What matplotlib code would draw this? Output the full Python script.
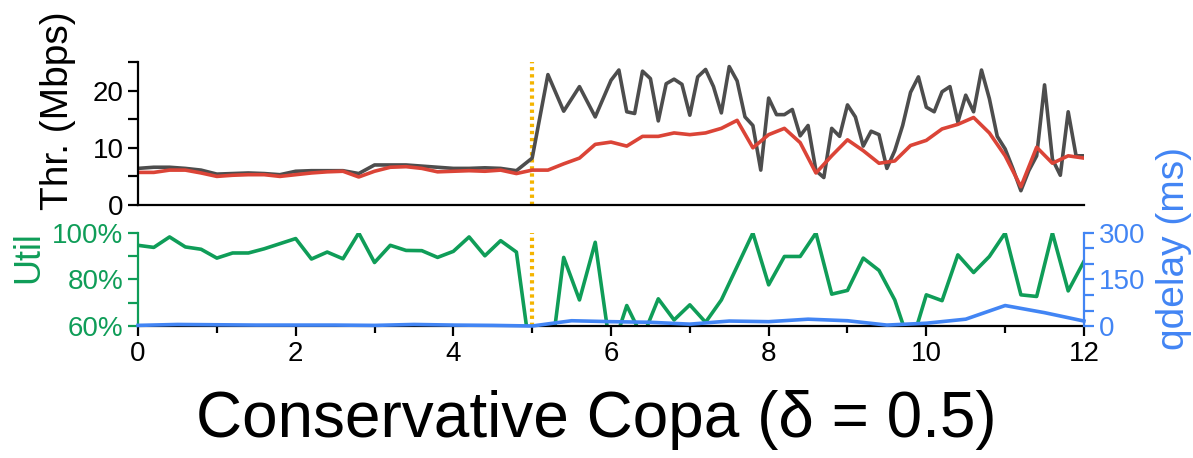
import numpy as np
import matplotlib
matplotlib.use('Agg')
import matplotlib.pyplot as plt
from matplotlib.ticker import FuncFormatter, MultipleLocator

plt.rcParams["font.family"] = ['Liberation Sans', 'DejaVu Sans']
plt.rcParams["font.size"] = 20

# throughput (Mbps)
t_tput = [0.0, 0.2, 0.4, 0.6, 0.8, 1.0, 1.2, 1.4, 1.6, 1.8, 2.0, 2.2, 2.4, 2.6, 2.8,
          3.0, 3.2, 3.4, 3.6, 3.8, 4.0, 4.2, 4.4, 4.6, 4.8, 5.0, 5.2, 5.4, 5.6, 5.8,
          6.0, 6.1, 6.2, 6.3, 6.4, 6.5, 6.6, 6.7, 6.8, 6.9, 7.0, 7.1, 7.2, 7.3, 7.4,
          7.5, 7.6, 7.7, 7.8, 7.9, 8.0, 8.1, 8.2, 8.3, 8.4, 8.5, 8.6, 8.7, 8.8, 8.9,
          9.0, 9.1, 9.2, 9.3, 9.4, 9.5, 9.6, 9.7, 9.8, 9.9, 10.0, 10.1, 10.2, 10.3,
          10.4, 10.5, 10.6, 10.7, 10.8, 10.9, 11.0, 11.1, 11.2, 11.3, 11.4, 11.5,
          11.6, 11.7, 11.8, 11.9, 12.0]
tput = [6.4, 6.6, 6.6, 6.4, 6.1, 5.4, 5.5, 5.6, 5.5, 5.3, 5.9, 6.0, 6.0, 6.0, 5.5,
        7.0, 7.0, 7.0, 6.8, 6.6, 6.4, 6.4, 6.5, 6.4, 6.0, 8.2, 22.8, 16.4, 20.7, 15.4,
        21.8, 23.6, 16.3, 16.0, 23.4, 22.1, 14.7, 21.2, 22.0, 21.1, 15.7, 22.4, 23.7,
        20.7, 16.1, 24.2, 21.7, 15.4, 13.9, 6.1, 18.7, 15.8, 15.8, 16.7, 12.1, 13.9,
        6.0, 4.8, 13.4, 12.0, 17.5, 15.4, 10.3, 12.9, 12.3, 6.4, 9.5, 13.9, 19.7, 22.4,
        17.1, 16.3, 19.8, 20.7, 14.5, 19.2, 16.3, 23.6, 18.6, 12.0, 9.8, 6.3, 2.5,
        6.0, 8.6, 21.0, 8.0, 5.2, 16.3, 8.6, 8.6]

# smoothed throughput and utilization, every 0.2 s
t_step = np.round(np.arange(0, 12.01, 0.2), 1)
tput_avg = [5.7, 5.7, 6.1, 6.1, 5.6, 5.0, 5.2, 5.3, 5.3, 5.0, 5.3, 5.6, 5.8, 5.9, 4.9,
            5.9, 6.6, 6.7, 6.4, 5.8, 5.9, 6.0, 5.9, 6.1, 5.5, 6.1, 6.1, 7.2, 8.2, 10.6,
            11.0, 10.3, 12.0, 12.0, 12.6, 12.3, 12.6, 13.4, 14.8, 10.0, 12.3, 13.4, 10.9,
            5.6, 8.6, 11.4, 9.5, 7.3, 7.7, 10.4, 11.3, 13.3, 14.1, 15.3, 12.6, 8.6, 3.2,
            10.1, 7.3, 8.6, 8.2]
util = [94.7, 93.8, 98.3, 94.0, 93.0, 89.2, 91.4, 91.4, 93.2, 95.4, 97.6, 88.8, 91.8,
        88.9, 100.0, 87.3, 94.7, 92.5, 92.4, 89.5, 92.1, 98.3, 90.2, 96.7, 91.8, 42.0,
        36.0, 89.5, 71.2, 96.0, 48.0, 68.8, 55.0, 71.7, 62.6, 69.1, 61.6, 71.2, 85.6,
        100.0, 77.7, 89.9, 89.9, 100.0, 73.7, 75.3, 89.2, 83.9, 71.2, 51.0, 73.4, 70.9,
        90.6, 83.0, 89.9, 100.0, 73.4, 72.7, 100.0, 75.1, 87.8]

# queueing delay (ms), every 0.5 s
t_qd = [0.0, 0.5, 1.0, 1.5, 2.0, 2.5, 3.0, 3.5, 4.0, 4.5, 5.0, 5.5, 6.0, 6.5, 7.0,
        7.5, 8.0, 8.5, 9.0, 9.5, 10.0, 10.5, 11.0, 11.5, 12.0]
qdelay = [2, 5, 4, 3, 3, 3, 2, 5, 3, 2, 0, 17, 14, 12, 6, 16, 14, 22, 17, 3, 9, 22,
          66, 43, 16]

switch_time = 5

GRAY = '#4d4d4d'
RED = '#db4437'
GREEN = '#0f9d58'
BLUE = '#4285f4'
ORANGE = '#f4b400'
LW = 2.6
DOT = dict(color=ORANGE, lw=3, ls=(0, (0.8, 0.9)), dash_capstyle='butt', zorder=1)
W, H = 1193, 458

fig = plt.figure(figsize=(11.93, 4.58), dpi=100)
ax1 = fig.add_axes([0.1157, 0.5524, 0.7929, 0.3122])
ax2 = fig.add_axes([0.1157, 0.2882, 0.7929, 0.2031])
ax3 = ax2.twinx()

# top: throughput
ax1.plot(t_tput, tput, color=GRAY, lw=LW)
ax1.plot(t_step, tput_avg, color=RED, lw=LW)
ax1.axvline(switch_time, **DOT)
ax1.set_xlim(0, 12)
ax1.set_ylim(0, 25)
ax1.yaxis.set_major_locator(MultipleLocator(10))
ax1.yaxis.set_minor_locator(MultipleLocator(5))
ax1.set_xticks([])
ax1.spines['top'].set_visible(False)
ax1.spines['right'].set_visible(False)
for s in ('left', 'bottom'):
    ax1.spines[s].set_linewidth(1.6)
ax1.tick_params(axis='y', which='both', direction='out', width=1.6, length=7,
                labelsize=20)
fig.text(58 / W, 1 - 111 / H, 'Thr. (Mbps)', rotation=90, ha='center', va='center',
         fontsize=28)

# bottom: utilization + qdelay
ax2.plot(t_step, util, color=GREEN, lw=LW, zorder=2)
ax2.axvline(switch_time, **DOT)
ax2.set_xlim(0, 12)
ax2.set_ylim(60, 100)
ax2.yaxis.set_major_locator(MultipleLocator(20))
ax2.yaxis.set_minor_locator(MultipleLocator(10))
ax2.yaxis.set_major_formatter(FuncFormatter(lambda v, p: '%d%%' % v))
ax2.xaxis.set_major_locator(MultipleLocator(2))
ax2.xaxis.set_minor_locator(MultipleLocator(1))
ax2.tick_params(axis='x', which='both', direction='out', width=1.6, labelsize=20)
ax2.tick_params(axis='x', which='major', length=7)
ax2.tick_params(axis='x', which='minor', length=5)
ax2.tick_params(axis='y', which='both', direction='out', width=1.6, length=7,
                labelsize=20, colors=GREEN)
fig.text(29 / W, 1 - 257 / H, 'Util', rotation=90, ha='center', va='center',
         color=GREEN, fontsize=26)
ax2.spines['top'].set_visible(False)
ax2.spines['right'].set_visible(False)
ax2.spines['left'].set_color(GREEN)
ax2.spines['left'].set_linewidth(1.6)
ax2.spines['bottom'].set_linewidth(1.6)

ax3.plot(t_qd, qdelay, color=BLUE, lw=LW, clip_on=False)
ax3.set_ylim(0, 300)
ax3.yaxis.set_major_locator(MultipleLocator(150))
ax3.yaxis.set_minor_locator(MultipleLocator(50))
ax3.tick_params(axis='y', which='both', direction='out', width=1.6, length=7,
                labelsize=20, colors=BLUE)
fig.text(1174 / W, 1 - 249 / H, 'qdelay (ms)', rotation=90, ha='center', va='center',
         color=BLUE, fontsize=28)
ax3.spines['top'].set_visible(False)
ax3.spines['left'].set_visible(False)
ax3.spines['bottom'].set_visible(False)
ax3.spines['right'].set_color(BLUE)
ax3.spines['right'].set_linewidth(1.6)

fig.text(0.5, 0.083, 'Conservative Copa (\u03b4 = 0.5)', ha='center', va='center',
         fontsize=46)

plt.savefig('out.png', dpi=100)
